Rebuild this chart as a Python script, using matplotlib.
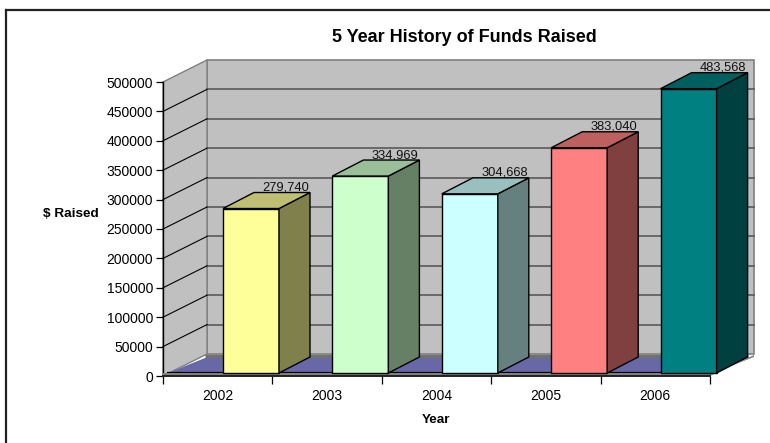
import matplotlib
matplotlib.use("Agg")
import matplotlib.pyplot as plt
from matplotlib.lines import Line2D
from matplotlib.patches import Polygon, Rectangle

years = ["2002", "2003", "2004", "2005", "2006"]
raised = [279740, 334969, 304668, 383040, 483568]
value_labels = ["279,740", "334,969", "304,668", "383,040", "483,568"]
front_colors = ["#FFFF99", "#CCFFCC", "#CCFFFF", "#FF8080", "#008080"]
top_colors = ["#BFBF73", "#99BF99", "#99BFBF", "#BF6060", "#006060"]
side_colors = ["#80804D", "#668066", "#668080", "#804040", "#004040"]
gridvals = list(range(0, 500001, 50000))

W, H = 770, 443
plt.rcParams["font.family"] = ["Liberation Sans", "DejaVu Sans"]
fig = plt.figure(figsize=(W / 100, H / 100), dpi=100, facecolor="white")

L, R, Y0, Y5 = 163, 710, 376, 82
ax = fig.add_axes([L / W, 1 - Y0 / H, (R - L) / W, (Y0 - Y5) / H])
ax.set_xlim(0, 5)
ax.set_ylim(0, 500000)
ax.patch.set_visible(False)
for s in ["top", "right", "bottom"]:
    ax.spines[s].set_visible(False)
ax.spines["left"].set_linewidth(1.0)

px = 5 / (R - L)
py = 500000 / (Y0 - Y5)
DX, DY = 44 * px, 22 * py

grey = "#C0C0C0"
edge = "#808080"
# back wall and left wall
ax.add_patch(Rectangle((DX, DY), 5, 500000, fc=grey, ec=edge, lw=1.2, clip_on=False, zorder=1))
ax.add_patch(Polygon([(0, 0), (DX, DY), (DX, 500000 + DY), (0, 500000)], fc=grey, ec=edge, lw=1.0, clip_on=False, zorder=1))
# white area under the floor's right diagonal
ax.add_patch(Polygon([(5, 0), (5 + DX + 2 * px, 0), (5 + DX + 2 * px, DY - 2 * py)], fc="white", ec="none", clip_on=False, zorder=1.5))
# gridlines
for g in gridvals[1:-1]:
    ax.plot([DX, 5 + DX], [g + DY, g + DY], color="#595959", lw=1.2, clip_on=False, zorder=2)
    ax.plot([0, DX], [g, g + DY], color="black", lw=0.8, clip_on=False, zorder=2)
# floor
ax.add_patch(Polygon([(5 * px, 3 * py), (DX - 2 * px, 18 * py), (5 + DX - 6 * px, 18 * py), (5 + 3 * px, 3 * py)], fc="#6868A8", ec="none", clip_on=False, zorder=2))
ax.plot([DX - 2 * px, 5 + DX - 6 * px], [DY - 2 * py, DY - 2 * py], color="#707070", lw=2.5, clip_on=False, zorder=2, solid_capstyle="butt")
ax.plot([5 * px, 5], [3 * py, 3 * py], color="black", lw=1.6, clip_on=False, zorder=3)
ax.add_patch(Polygon([(0, 0), (5, 0), (5 + DX, DY - 1 * py), (5 + DX, DY - 3 * py), (5 + 3 * px, 3 * py), (0, 3 * py)], fc=edge, ec="none", clip_on=False, zorder=3))
ax.plot([0, 5], [0, 0], color="#222222", lw=1.4, clip_on=False, zorder=3)

# bars
BX = 60 * px
BW = 56 * px
BASE = 3 * py
SDX, SDY = 31 * px, 16 * py
for i, v in enumerate(raised):
    x0 = i + BX
    y1 = v + BASE
    ax.bar(x0, v, width=BW, bottom=BASE, align="edge", color=front_colors[i], edgecolor="black", lw=1.0, clip_on=False, zorder=5)
    ax.add_patch(Polygon([(x0 + BW, BASE), (x0 + BW + SDX, BASE + SDY), (x0 + BW + SDX, y1 + SDY), (x0 + BW, y1)], fc=side_colors[i], ec="black", lw=1.0, clip_on=False, zorder=5))
    ax.add_patch(Polygon([(x0, y1), (x0 + SDX, y1 + SDY), (x0 + BW + SDX, y1 + SDY), (x0 + BW, y1)], fc=top_colors[i], ec="black", lw=1.0, clip_on=False, zorder=5))
    ax.text(x0 + BW + SDX - 1 * px, y1 + SDY - 1 * py, value_labels[i], ha="right", va="bottom", fontsize=9.3, color="#111111", zorder=6, clip_on=False)

ax.set_yticks(gridvals)
ax.set_yticklabels([str(g) for g in gridvals], fontsize=10)
ax.set_xticks(range(6))
ax.set_xticklabels([])
ax.set_xticks([i + 0.5 for i in range(5)], minor=True)
ax.set_xticklabels(years, minor=True, fontsize=10)
ax.tick_params(axis="x", which="minor", length=0, pad=9)
ax.tick_params(axis="x", which="major", length=6, width=0.9, pad=2)
ax.tick_params(axis="y", length=5, width=0.9, pad=2)

fig.text(464 / W, 1 - 38 / H, "5 Year History of Funds Raised", ha="center", va="center", fontsize=13, fontweight="bold")
fig.text(71 / W, 1 - 214 / H, r"\$ Raised", ha="center", va="center", fontsize=9.7, fontweight="bold")
fig.text(436 / W, 1 - 420 / H, "Year", ha="center", va="center", fontsize=9.7, fontweight="bold")

# chart-area border: only the top and left edges fall inside the image
fig.add_artist(Line2D([6 / W, 6 / W], [0, 1 - 10 / H], color="#222222", lw=1.6, transform=fig.transFigure))
fig.add_artist(Line2D([6 / W, 1], [1 - 10 / H, 1 - 10 / H], color="#222222", lw=1.6, transform=fig.transFigure))
fig.savefig("out.png", dpi=100)
